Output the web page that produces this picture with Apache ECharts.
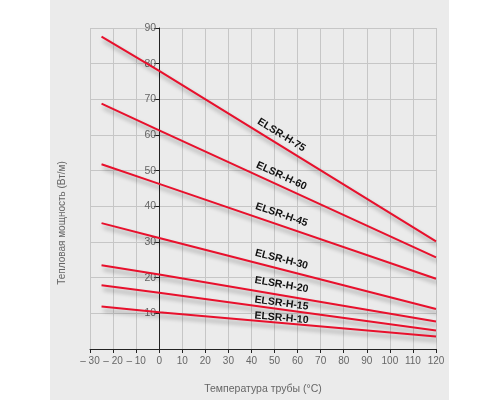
<!DOCTYPE html>
<html>
<head>
<meta charset="utf-8">
<script src="https://cdn.jsdelivr.net/npm/echarts@6/dist/echarts.min.js"></script>
<style>
html,body{margin:0;padding:0;background:#ffffff;}
#main{width:500px;height:400px;}
</style>
</head>
<body>
<div id="main"></div>
<script>
// ---- data ----
var temps = [-25, 0, 120];
var seriesNames = ['ELSR-H-75', 'ELSR-H-60', 'ELSR-H-45', 'ELSR-H-30', 'ELSR-H-20', 'ELSR-H-15', 'ELSR-H-10'];
var h75 = [87.6, 78.0, 30.2];
var h60 = [68.8, 61.3, 25.7];
var h45 = [51.8, 46.3, 19.7];
var h30 = [35.3, 31.1, 11.2];
var h20 = [23.5, 20.9, 7.7];
var h15 = [17.9, 15.8, 5.2];
var h10 = [11.9, 10.3, 3.5];
var seriesValues = [h75, h60, h45, h30, h20, h15, h10];
var xTicks = {min: -30, max: 120, step: 10};
var yTicks = {min: 0, max: 90, step: 10};
var xTitle = 'Температура трубы (°C)';
var yTitle = 'Тепловая мощность (Вт/м)';

// label placement (layout, not data)
var labelAtX = 53;
var labelLift = [11, 10.5, 11, 10, 10.5, 6, 5];

var chart = echarts.init(document.getElementById('main'), null, {renderer: 'canvas'});

var lineColor = '#e8102c';
var series = seriesNames.map(function (name, i) {
  return {
    name: name,
    type: 'line',
    data: temps.map(function (t, j) { return [t, seriesValues[i][j]]; }),
    symbol: 'none',
    silent: true,
    lineStyle: {
      color: lineColor,
      width: 2,
      shadowColor: 'rgba(0,0,0,0.35)',
      shadowBlur: 4,
      shadowOffsetX: 2,
      shadowOffsetY: 4
    },
    z: 5
  };
});

var option = {
  animation: false,
  backgroundColor: '#ffffff',
  grid: {left: 90, right: 64, top: 28, bottom: 48, containLabel: false},
  xAxis: {
    type: 'value',
    min: xTicks.min, max: xTicks.max, interval: xTicks.step,
    name: xTitle,
    nameLocation: 'middle',
    nameGap: 35,
    nameTextStyle: {color: '#666', fontSize: 10.5, fontFamily: 'Liberation Sans'},
    axisLine: {show: true, onZero: false, lineStyle: {color: '#222', width: 1}},
    axisTick: {show: true, length: 4, lineStyle: {color: '#222'}},
    axisLabel: {
      color: '#666', fontSize: 10, fontFamily: 'Liberation Sans', margin: 7,
      formatter: function (v) { return v < 0 ? '– ' + (-v) : String(v); }
    },
    splitLine: {show: true, lineStyle: {color: '#c6c6c6', width: 1}}
  },
  yAxis: {
    type: 'value',
    min: yTicks.min, max: yTicks.max, interval: yTicks.step,
    offset: 0,
    axisLine: {show: true, onZero: false, lineStyle: {color: '#222', width: 1}},
    axisTick: {show: true, length: 5, lineStyle: {color: '#222'}},
    axisLabel: {
      color: '#666', fontSize: 10.5, fontFamily: 'Liberation Sans', margin: 3,
      formatter: function (v) { return v === 0 ? '' : String(v); }
    },
    splitLine: {show: true, lineStyle: {color: '#c6c6c6', width: 1}}
  },
  series: series
};

chart.setOption(option);

// move the y axis onto x = 0
var pxMin = chart.convertToPixel({xAxisIndex: 0}, xTicks.min);
var pxZero = chart.convertToPixel({xAxisIndex: 0}, 0);
chart.setOption({yAxis: {offset: -(pxZero - pxMin)}});

function valueAt(vals, x) {
  for (var j = 0; j < temps.length - 1; j++) {
    if (x >= temps[j] && x <= temps[j + 1]) {
      var f = (x - temps[j]) / (temps[j + 1] - temps[j]);
      return vals[j] + f * (vals[j + 1] - vals[j]);
    }
  }
  return vals[vals.length - 1];
}

var graphics = [
  {
    type: 'rect', z: -10, silent: true,
    shape: {x: 50, y: 0, width: 399, height: 400},
    style: {fill: '#ebebeb'}
  },
  {
    type: 'text', silent: true,
    x: 62, y: 223, rotation: Math.PI / 2,
    style: {
      text: yTitle, fill: '#666', fontSize: 10, fontFamily: 'Liberation Sans',
      align: 'center', verticalAlign: 'middle'
    }
  }
];

seriesNames.forEach(function (name, i) {
  var vals = seriesValues[i];
  var p = chart.convertToPixel({gridIndex: 0}, [labelAtX, valueAt(vals, labelAtX)]);
  var a = chart.convertToPixel({gridIndex: 0}, [temps[1], vals[1]]);
  var b = chart.convertToPixel({gridIndex: 0}, [temps[2], vals[2]]);
  var ang = Math.atan2(b[1] - a[1], b[0] - a[0]);
  graphics.push({
    type: 'text', silent: true, z: 10,
    x: p[0], y: p[1] - labelLift[i], rotation: -ang,
    style: {
      text: name, fill: '#111', fontSize: 10.5, fontWeight: 'bold',
      fontFamily: 'Liberation Sans', align: 'center', verticalAlign: 'middle'
    }
  });
});

chart.setOption({graphic: graphics});
</script>
</body>
</html>
